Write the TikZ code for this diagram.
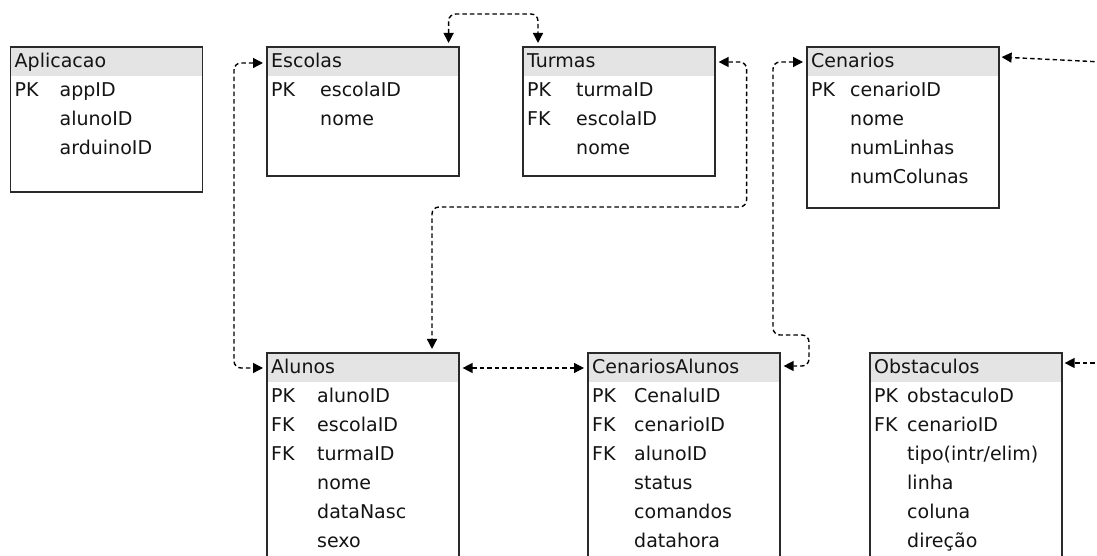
\documentclass[tikz,border=0pt]{standalone}
\usepackage{fontspec}
\setmainfont{DejaVu Sans}
\usetikzlibrary{arrows.meta}
\definecolor{hdr}{HTML}{E4E4E4}
\definecolor{edgecol}{HTML}{2A2A2A}
\newcommand\tipoTxt{tipo(intr/elim)}
\tikzset{
  tbl/.style={draw=edgecol, line width=1.6pt, minimum width=192pt, inner sep=0pt,
    anchor=north west,
    path picture={\fill[hdr] (path picture bounding box.north west) rectangle ([yshift=-29.5pt]path picture bounding box.north east);}},
  txt/.style={inner sep=0pt, anchor=base west, text=black!92, font=\fontsize{19}{23}\selectfont},
  relbase/.style={draw=black, line width=1.4pt, dash pattern=on 4.5pt off 3pt,
    rounded corners=7pt},
  rel/.style={relbase, {Triangle[length=10pt,width=10pt]}-{Triangle[length=10pt,width=10pt]},
    shorten <=3pt, shorten >=3pt},
  relone/.style={relbase, -{Triangle[length=10pt,width=10pt]}, shorten >=2pt}
}
\newcommand\ertable[7]{%
  \node[tbl, minimum height=#4pt] (#1) at (#2,#3) {};
  \node[txt] (#1-h) at ([xshift=5pt,yshift=-21.6pt]#1.north west) {#6};
  \foreach \keyname/\fieldname [count=\rowi] in {#7}{%
    \ifx\keyname\empty\else
      \node[txt] (#1-k\rowi) at ([xshift=5pt,yshift=-50.6pt-(\rowi-1)*29pt]#1.north west) {\keyname};
    \fi
    \node[txt] (#1-f\rowi) at ([xshift=#5pt,yshift=-50.6pt-(\rowi-1)*29pt]#1.north west) {\fieldname};
  }%
}
\begin{document}
\begin{tikzpicture}[x=1pt,y=1pt]
\useasboundingbox (0,0) rectangle (1097,556);
\clip (0,0) rectangle (1097,556);
\fill[white] (0,0) rectangle (1097,556);

\ertable{apl}{9.5}{510}{145}{50}{Aplicacao}{PK/appID,/alunoID,/arduinoID}
\ertable{esc}{266}{510}{129}{54}{Escolas}{PK/escolaID,/nome}
\ertable{tur}{522}{510}{129}{54}{Turmas}{PK/turmaID,FK/escolaID,/nome}
\ertable{cen}{806}{510}{161}{44}{Cenarios}{PK/cenarioID,/nome,/numLinhas,/numColunas}
\ertable{alu}{266}{204}{214}{51}{Alunos}{PK/alunoID,FK/escolaID,FK/turmaID,/nome,/dataNasc,/sexo}
\ertable{ca}{587}{204}{214}{47}{CenariosAlunos}{PK/CenaluID,FK/cenarioID,FK/alunoID,/status,/comandos,/datahora}
\ertable{obs}{869}{204}{214}{38}{Obstaculos}{PK/obstaculoD,FK/cenarioID,/\tipoTxt,/linha,/coluna,/direção}

\coordinate (cenout) at (1102,494);
\coordinate (obsout) at (1102,193);

\draw[rel] ([xshift=-11pt]esc.north east) -- ++(0,32) -| ([xshift=16pt]tur.north west);
\draw[rel] ([yshift=-17pt]esc.north west) -- ++(-32,0) |- ([yshift=-16pt]alu.north west);
\draw[rel] ([yshift=-16pt]tur.north east) -- ++(31,0) -- ++(0,-145) -| ([xshift=166pt]alu.north west);
\draw[rel] ([yshift=-16pt]alu.north east) -- ([yshift=-16pt]ca.north west);
\draw[rel] ([yshift=-16pt]cen.north west) -- ++(-33,0) -- ++(0,-273) -- ++(36,0) |- ([yshift=-14pt]ca.north east);
\draw[relone] (cenout) -- ([yshift=-11pt]cen.north east);
\draw[relone] (obsout) -- ([yshift=-11pt]obs.north east);
\end{tikzpicture}
\end{document}
